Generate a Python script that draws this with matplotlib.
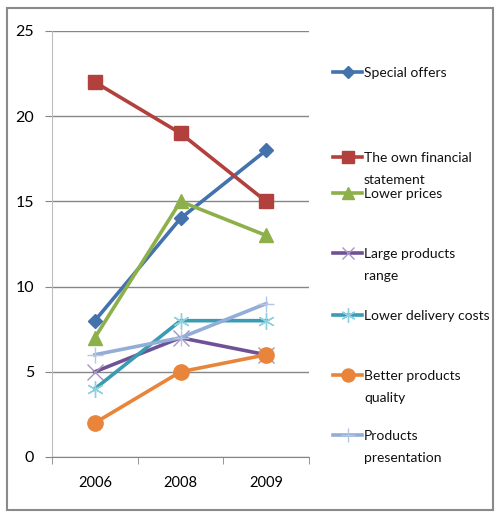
import matplotlib
matplotlib.use('Agg')
import matplotlib.pyplot as plt
from matplotlib.lines import Line2D
from matplotlib.patches import Rectangle

# Données
years = ['2006', '2008', '2009']
special_offers = [8, 14, 18]
own_financial = [22, 19, 15]
lower_prices = [7, 15, 13]
large_range = [5, 7, 6]
lower_delivery = [4, 8, 8]
better_quality = [2, 5, 6]
presentation = [6, 7, 9]

labels = ['Special offers', 'The own financial\nstatement', 'Lower prices',
          'Large products\nrange', 'Lower delivery costs',
          'Better products\nquality', 'Products\npresentation']
series = [special_offers, own_financial, lower_prices, large_range,
          lower_delivery, better_quality, presentation]
colors = ['#4372AC', '#B2413D', '#8DB04A', '#6F5295', '#3A9BB2', '#E8853A', '#93AED6']
marker_colors = ['#4372AC', '#B2413D', '#8DB04A', '#A695C4', '#8ED0E0', '#E8853A', '#B3C6E4']
markers = ['D', 's', '^', 'x', (6, 2, 0), 'o', '+']
msizes = [7, 10, 10, 11, 12, 11, 12]
mew = [1, 1, 1, 1.0, 1.0, 1, 1.0]

plt.rcParams['font.family'] = ['Lato', 'DejaVu Sans']

W, H = 496, 517
fig = plt.figure(figsize=(W / 100, H / 100), dpi=100)
fig.patch.set_facecolor('white')

# Cadre extérieur
fig.patches.append(Rectangle((7 / W, 1 - 510 / H), 486 / W, 502 / H,
                             transform=fig.transFigure, fill=False,
                             edgecolor='#8A8A8A', linewidth=1.5))

ax = fig.add_axes([52 / W, 1 - 457 / H, 257 / W, 426 / H])
x = range(len(years))
for vals, c, mc, m, ms, mw in zip(series, colors, marker_colors, markers, msizes, mew):
    ax.plot(x, vals, color=c, linewidth=2.6, marker=m, markersize=ms,
            markerfacecolor=mc, markeredgecolor=mc, markeredgewidth=mw, zorder=3)

ax.set_xlim(-0.5, 2.5)
ax.set_ylim(0, 25)
ax.set_yticks([0, 5, 10, 15, 20, 25])
ax.set_xticks(list(x))
ax.set_xticklabels(years)
ax.set_xticks([-0.5, 0.5, 1.5, 2.5], minor=True)
ax.tick_params(axis='x', which='major', length=0, pad=14, labelsize=10.5)
ax.tick_params(axis='x', which='minor', length=5, color='#868686', direction='out')
ax.tick_params(axis='y', length=5, color='#868686', labelsize=11.5, pad=8)
ax.yaxis.grid(True, color='#868686', linewidth=1)
ax.set_axisbelow(True)
for s in ['top', 'right']:
    ax.spines[s].set_visible(False)
ax.spines['left'].set_color('#BDBDBD')
ax.spines['bottom'].set_color('#868686')

# Légende manuelle
leg_y = [72, 157, 193, 253, 315, 375, 435]
for lab, ly, c, mc, m, ms, mw in zip(labels, leg_y, colors, marker_colors, markers, msizes, mew):
    yf = 1 - ly / H
    fig.add_artist(Line2D([333 / W, 362 / W], [yf, yf], transform=fig.transFigure,
                          color=c, linewidth=2.6))
    fig.add_artist(Line2D([348 / W], [yf], transform=fig.transFigure, marker=m,
                          markersize=ms * 0.85, markerfacecolor=mc,
                          markeredgecolor=mc, markeredgewidth=mw, linestyle='none'))
    fig.text(364 / W, yf + 5 / H, lab, fontsize=10, va='top', ha='left',
             linespacing=2.05, color='#111111', transform=fig.transFigure)

fig.savefig('out.png', dpi=100)
